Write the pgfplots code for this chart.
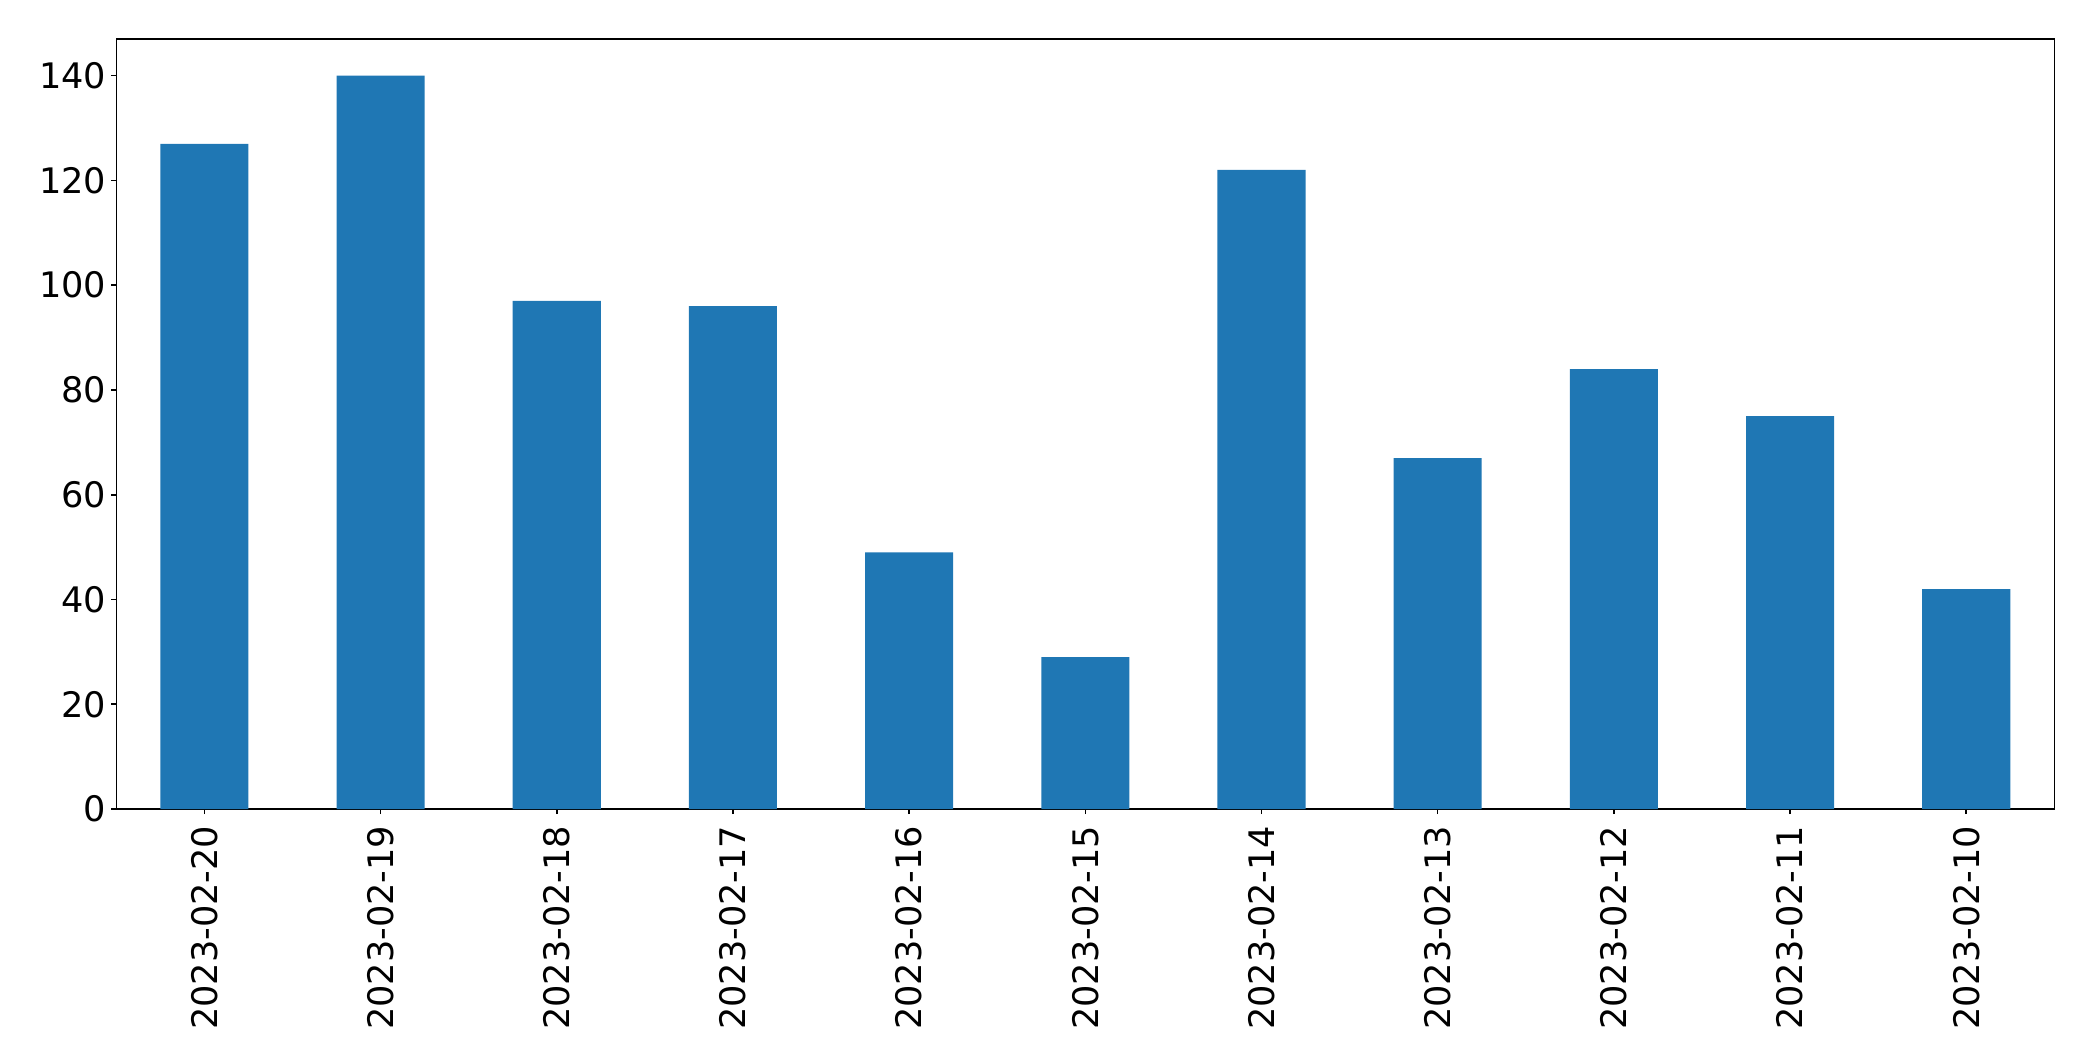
\documentclass[border=0pt]{standalone}
\usepackage{pgfplots}
\pgfplotsset{compat=1.18}
\usepackage{fontspec}
\setmainfont{DejaVu Sans}
\definecolor{mplblue}{HTML}{1F77B4}
\begin{document}
\begin{tikzpicture}
\path[use as bounding box] (0,0) rectangle (20.93cm,10.61cm);
\begin{axis}[
  at={(1.163cm,2.52cm)}, anchor=south west,
  scale only axis,
  width=19.38cm, height=7.70cm,
  xmin=-0.5, xmax=10.5,
  ymin=0, ymax=147,
  xtick={0,1,2,3,4,5,6,7,8,9,10},
  xticklabels={2023-02-20,2023-02-19,2023-02-18,2023-02-17,2023-02-16,2023-02-15,2023-02-14,2023-02-13,2023-02-12,2023-02-11,2023-02-10},
  ytick={0,20,40,60,80,100,120,140},
  tick align=outside,
  major tick length=0.5mm,
  tick style={black, line width=0.45pt},
  axis line style={line width=0.45pt},
  xtick pos=bottom, ytick pos=left,
  /pgf/number format/assume math mode=true,
  ticklabel style={font=\fontsize{10pt}{12pt}\selectfont},
  xticklabel style={rotate=90, anchor=east, inner sep=0pt, xshift=0pt},
  yticklabel style={inner sep=0pt, xshift=-0.45mm},
  xticklabel shift=1.1mm,
]
\addplot[ybar, bar width=0.5, fill=mplblue, draw=none, bar shift=0pt]
  coordinates {(0,127) (1,140) (2,97) (3,96) (4,49) (5,29) (6,122) (7,67) (8,84) (9,75) (10,42)};
\end{axis}
\end{tikzpicture}
\end{document}
